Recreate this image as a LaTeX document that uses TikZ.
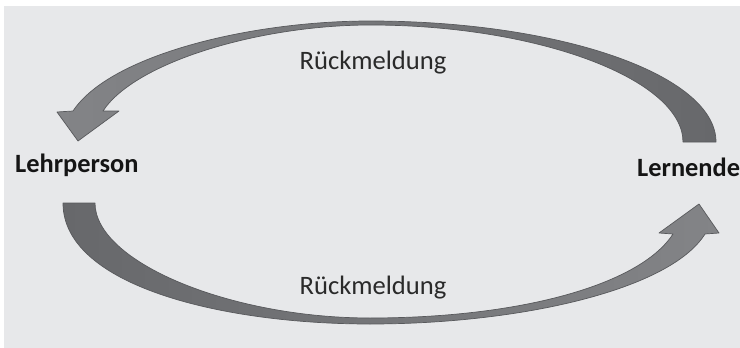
\documentclass[tikz,border=0pt]{standalone}
\usepackage{fontspec}
\setmainfont{Carlito}
\definecolor{bggray}{HTML}{E7E8EA}
\definecolor{arrdark}{HTML}{67686B}
\definecolor{arrlight}{HTML}{838487}
\definecolor{arrline}{HTML}{58595C}
\definecolor{textgray}{HTML}{2A2A2A}
\definecolor{textdark}{HTML}{151515}
\begin{document}
\begin{tikzpicture}[x=1pt,y=-1pt,
  arrowshape/.style={draw=arrline, line width=0.7pt, line join=round},
  lbl/.style={font=\fontsize{26.6}{31}\selectfont, text=textgray, inner sep=0pt, anchor=base},
  party/.style={font=\fontsize{26.4}{31}\selectfont\bfseries, text=textdark, inner sep=0pt, anchor=base west}]
\useasboundingbox (0,0) rectangle (740,348);
\fill[bggray] (4,6) rectangle (740,348);
% top arrow (Lernende -> Lehrperson)
\shadedraw[arrowshape, left color=arrlight, right color=arrdark]
  (683,142) -- (716,142) .. controls (716,75) and (561,21) .. (370,21)
  .. controls (250,21) and (110,55) .. (73,111) -- (57,112) -- (78,141)
  -- (119,111) -- (103,111) .. controls (135,62) and (260,25) .. (370,25)
  .. controls (540,25) and (683,80) .. (683,142) -- cycle;
% bottom arrow (Lehrperson -> Lernende)
\shadedraw[arrowshape, left color=arrdark, right color=arrlight]
  (63,203) -- (95,203) .. controls (95,262) and (230,318) .. (370,318)
  .. controls (520,318) and (640,285) .. (673,234) -- (659,233) -- (699,204)
  -- (719,233) -- (705,234) .. controls (670,290) and (520,324) .. (370,324)
  .. controls (220,324) and (63,285) .. (63,203) -- cycle;
\node[party] (lehr) at (15,172) {Lehrperson};
\node[party] (lern) at (637,176) {Lernende};
\node[lbl] (rm1) at (373,69) {Rückmeldung};
\node[lbl] (rm2) at (373,294) {Rückmeldung};
\end{tikzpicture}
\end{document}
